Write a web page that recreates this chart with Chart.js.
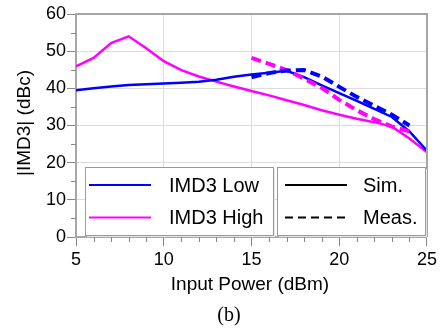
<!DOCTYPE html>
<html><head><meta charset="utf-8">
<script src="https://cdn.jsdelivr.net/npm/chart.js@4"></script>
<style>html,body{margin:0;padding:0;background:#fff;overflow:hidden}</style>
</head><body>
<canvas id="c" width="440" height="328"></canvas>
<script>
// ---- data ----
const xSim = [5,6,7,8,9,10,11,12,13,14,15,16,17,18,19,20,21,22,23,24,25];
const lowSim  = [39.5,40.0,40.5,40.9,41.1,41.3,41.5,41.8,42.3,43.1,43.7,44.2,44.7,43.0,40.8,38.7,36.6,34.5,32.3,28.4,23.2];
const highSim = [45.9,48.2,52.2,54.0,50.8,47.3,44.9,43.2,41.8,40.5,39.3,38.1,36.8,35.5,34.1,32.9,31.8,30.9,29.7,26.5,22.8];
const xMeas = [15,16,17,18,19,20,21,22,23,24];
const lowMeas  = [43.0,44.1,44.8,44.9,43.2,40.4,37.7,35.3,32.9,30.0];
const highMeas = [48.2,46.6,44.9,42.6,40.1,36.9,34.1,31.7,29.7,28.4];
const xTicks = [5,10,15,20,25];
const yTicks = [0,10,20,30,40,50,60];
const seriesNames = ['IMD3 Low','IMD3 High'];
const styleNames = ['Sim.','Meas.'];
const xTitle = 'Input Power (dBm)';
const yTitle = '|IMD3| (dBc)';
const caption = '(b)';

const BLUE = '#0000ff', MAG = '#ff00ff';
const pts = (xs, ys) => xs.map((x, i) => ({x, y: ys[i]}));

const extras = {
  id: 'extras',
  afterDraw(chart) {
    const ctx = chart.ctx, a = chart.chartArea;
    const xs = chart.scales.x, ys = chart.scales.y;
    ctx.save();
    // top / right border
    ctx.strokeStyle = '#a6a6a6'; ctx.lineWidth = 2;
    ctx.beginPath();
    ctx.moveTo(a.left, a.top); ctx.lineTo(a.right, a.top); ctx.lineTo(a.right, a.bottom);
    ctx.stroke();
    // minor ticks
    ctx.lineWidth = 1; ctx.strokeStyle = '#888';
    ctx.beginPath();
    for (let v = 5; v < 60; v += 10) {
      const py = Math.round(ys.getPixelForValue(v)) + 0.5;
      ctx.moveTo(a.left - 5, py); ctx.lineTo(a.left, py);
    }
    for (let v = 6; v < 25; v++) {
      if (v % 5 === 0) continue;
      const px = Math.round(xs.getPixelForValue(v)) + 0.5;
      ctx.moveTo(px, a.bottom); ctx.lineTo(px, a.bottom + 5);
    }
    ctx.stroke();
    // legend boxes
    const boxes = [[85, 167, 188, 68], [277, 167, 148, 68]];
    boxes.forEach(([bx, by, bw, bh]) => {
      ctx.fillStyle = '#e6e6e6';
      ctx.fillRect(bx + 2, by + 2, bw, bh);
      ctx.fillStyle = '#fff';
      ctx.fillRect(bx, by, bw, bh);
      ctx.strokeStyle = '#9a9a9a'; ctx.lineWidth = 1;
      ctx.strokeRect(bx + 0.5, by + 0.5, bw, bh);
    });
    const rowY = [185, 217.5];
    ctx.font = '20px "Liberation Sans", Arial, sans-serif';
    ctx.textBaseline = 'middle'; ctx.textAlign = 'left';
    [BLUE, MAG].forEach((col, i) => {
      ctx.strokeStyle = col; ctx.lineWidth = 2; ctx.setLineDash([]);
      ctx.beginPath(); ctx.moveTo(89, rowY[i]); ctx.lineTo(151, rowY[i]); ctx.stroke();
      ctx.fillStyle = '#000';
      ctx.fillText(seriesNames[i], 169, rowY[i] + 1);
    });
    [[], [8, 5]].forEach((dash, i) => {
      ctx.strokeStyle = '#000'; ctx.lineWidth = 2; ctx.setLineDash(dash);
      ctx.beginPath(); ctx.moveTo(285, rowY[i]); ctx.lineTo(347, rowY[i]); ctx.stroke();
      ctx.setLineDash([]);
      ctx.fillStyle = '#000';
      ctx.fillText(styleNames[i], 363, rowY[i] + 1);
    });
    // axis titles
    ctx.fillStyle = '#000';
    ctx.font = '19px "Liberation Sans", Arial, sans-serif';
    ctx.textAlign = 'center'; ctx.textBaseline = 'alphabetic';
    ctx.fillText(xTitle, 250, 290);
    ctx.save();
    ctx.translate(30, 123); ctx.rotate(-Math.PI / 2);
    ctx.fillText(yTitle, 0, 0);
    ctx.restore();
    // caption
    ctx.font = '20px "Liberation Serif", "Times New Roman", serif';
    ctx.textBaseline = 'middle';
    ctx.fillText(caption, 229, 316);
    ctx.restore();
  }
};

new Chart(document.getElementById('c'), {
  type: 'line',
  data: {
    datasets: [
      {data: pts(xMeas, lowMeas), borderColor: BLUE, borderWidth: 4, borderDash: [10, 5], order: 0},
      {data: pts(xMeas, highMeas), borderColor: MAG, borderWidth: 4, borderDash: [10, 5], order: 1},
      {data: pts(xSim, lowSim), borderColor: BLUE, borderWidth: 2.5, order: 2},
      {data: pts(xSim, highSim), borderColor: MAG, borderWidth: 2.5, order: 3}
    ]
  },
  options: {
    responsive: false, animation: false, devicePixelRatio: 1,
    layout: {padding: {top: 14, right: 12, left: 0, bottom: 0}},
    elements: {point: {radius: 0}, line: {tension: 0, fill: false, borderCapStyle: 'butt'}},
    plugins: {legend: {display: false}, tooltip: {enabled: false}},
    scales: {
      x: {
        type: 'linear', min: 5, max: 25,
        afterBuildTicks: s => { s.ticks = xTicks.map(v => ({value: v})); },
        afterFit: s => { s.height = 91; },
        grid: {color: '#dcdcdc', lineWidth: 1, tickColor: '#888', tickLength: 9},
        border: {color: '#a6a6a6', width: 2},
        ticks: {color: '#000', font: {family: '"Liberation Sans", Arial, sans-serif', size: 18}, padding: 3, maxRotation: 0}
      },
      y: {
        min: 0, max: 60,
        afterBuildTicks: s => { s.ticks = yTicks.map(v => ({value: v})); },
        afterFit: s => { s.width = 76; },
        grid: {color: '#dcdcdc', lineWidth: 1, tickColor: '#888', tickLength: 9},
        border: {color: '#a6a6a6', width: 2},
        ticks: {color: '#000', font: {family: '"Liberation Sans", Arial, sans-serif', size: 18}, padding: 1}
      }
    }
  },
  plugins: [extras]
});
</script>
</body></html>
